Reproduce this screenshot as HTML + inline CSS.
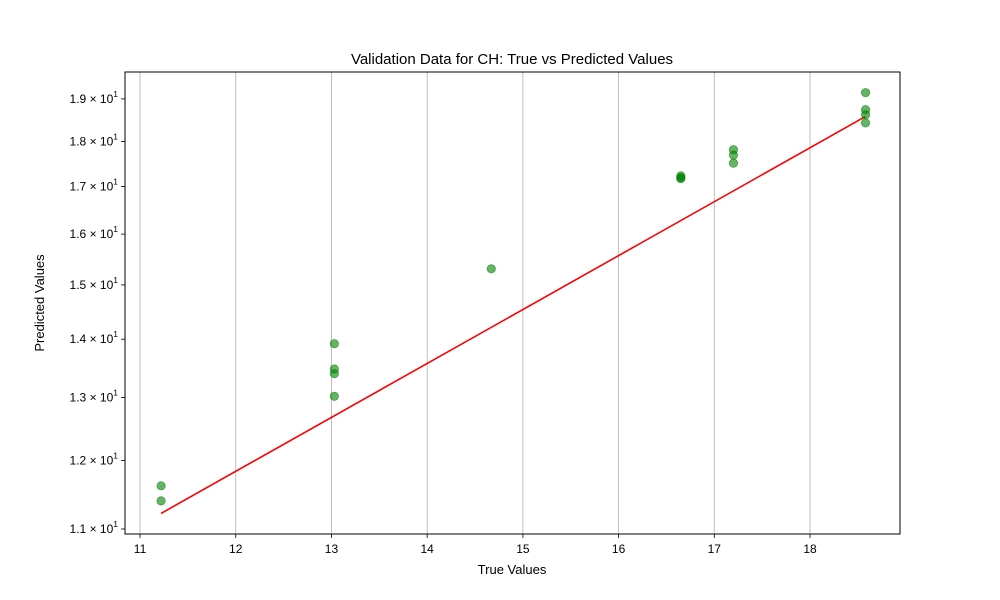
<!DOCTYPE html>
<html><head><meta charset="utf-8"><style>
body{margin:0;background:#fff;}
svg{display:block;font-family:"Liberation Sans","DejaVu Sans",sans-serif;}
</style></head><body>
<svg id="chart" width="1000" height="600" viewBox="0 0 1000 600" xmlns="http://www.w3.org/2000/svg">
<rect width="1000" height="600" fill="#fff"/>
<g id="grid"></g>
<g id="fit"></g>
<g id="pts"></g>
<rect x="125" y="72" width="775" height="462" fill="none" stroke="#000" stroke-width="1"/>
<g id="xt"></g>
<g id="yt"></g>
<text x="512" y="64" text-anchor="middle" font-size="15">Validation Data for CH: True vs Predicted Values</text>
<text x="512" y="574" text-anchor="middle" font-size="13">True Values</text>
<text x="44" y="303" text-anchor="middle" font-size="13" transform="rotate(-90 44 303)">Predicted Values</text>
</svg>
<script>
const trueVals=[11.22,11.22,13.03,13.03,13.03,13.03,14.67,16.65,16.65,16.65,17.2,17.2,17.2,18.58,18.58,18.58,18.58];
const predVals=[11.62,11.40,13.92,13.48,13.40,13.02,15.31,17.23,17.19,17.17,17.81,17.69,17.51,19.15,18.74,18.62,18.43];
const xTicks=[11,12,13,14,15,16,17,18];
const yTicks=[11,12,13,14,15,16,17,18,19];
const X0=125,X1=900,Y0=534,Y1=72;
const xmin=10.843,xmax=18.94,ymin=10.93,ymax=19.66;
const sx=v=>X0+(v-xmin)/(xmax-xmin)*(X1-X0);
const sy=v=>Y0-(Math.log10(v)-Math.log10(ymin))/(Math.log10(ymax)-Math.log10(ymin))*(Y0-Y1);
const NS="http://www.w3.org/2000/svg";
function mk(tag,attrs,parent){const e=document.createElementNS(NS,tag);for(const k in attrs)e.setAttribute(k,attrs[k]);parent.appendChild(e);return e;}
const grid=document.getElementById('grid'),xt=document.getElementById('xt'),yt=document.getElementById('yt');
xTicks.forEach(t=>{const x=sx(t);
 const g=mk('line',{x1:x,x2:x,y1:Y1,y2:Y0,stroke:'#b0b0b0','stroke-width':0.8},grid);
 
 
 mk('line',{x1:x,x2:x,y1:Y0,y2:Y0+4,stroke:'#000','stroke-width':0.8},xt);
 const l=mk('text',{x:x,y:Y0+19,'text-anchor':'middle','font-size':12},xt);l.textContent=t;
 
 
});
yTicks.forEach(t=>{const y=sy(t);
 mk('line',{x1:X0-4,x2:X0,y1:y,y2:y,stroke:'#000','stroke-width':0.8},yt);
 const l=mk('text',{x:X0-7,y:y+4,'text-anchor':'end','font-size':12},yt);
 l.innerHTML=(t/10).toFixed(1)+' × 10<tspan dy="-6" font-size="8.5">1</tspan>';
 
 
});
const lo=Math.min(...trueVals),hi=Math.max(...trueVals);
const fl=mk('line',{x1:sx(lo),y1:sy(lo),x2:sx(hi),y2:sy(hi),stroke:'#ff0000','stroke-width':1.6},document.getElementById('fit'));


const pts=document.getElementById('pts');
trueVals.forEach((v,i)=>{const c=mk('circle',{cx:sx(v),cy:sy(predVals[i]),r:4.2,fill:'rgba(0,128,0,0.6)',stroke:'rgba(0,128,0,0.6)','stroke-width':0.8},pts);
 
 
});
</script>
</body></html>
